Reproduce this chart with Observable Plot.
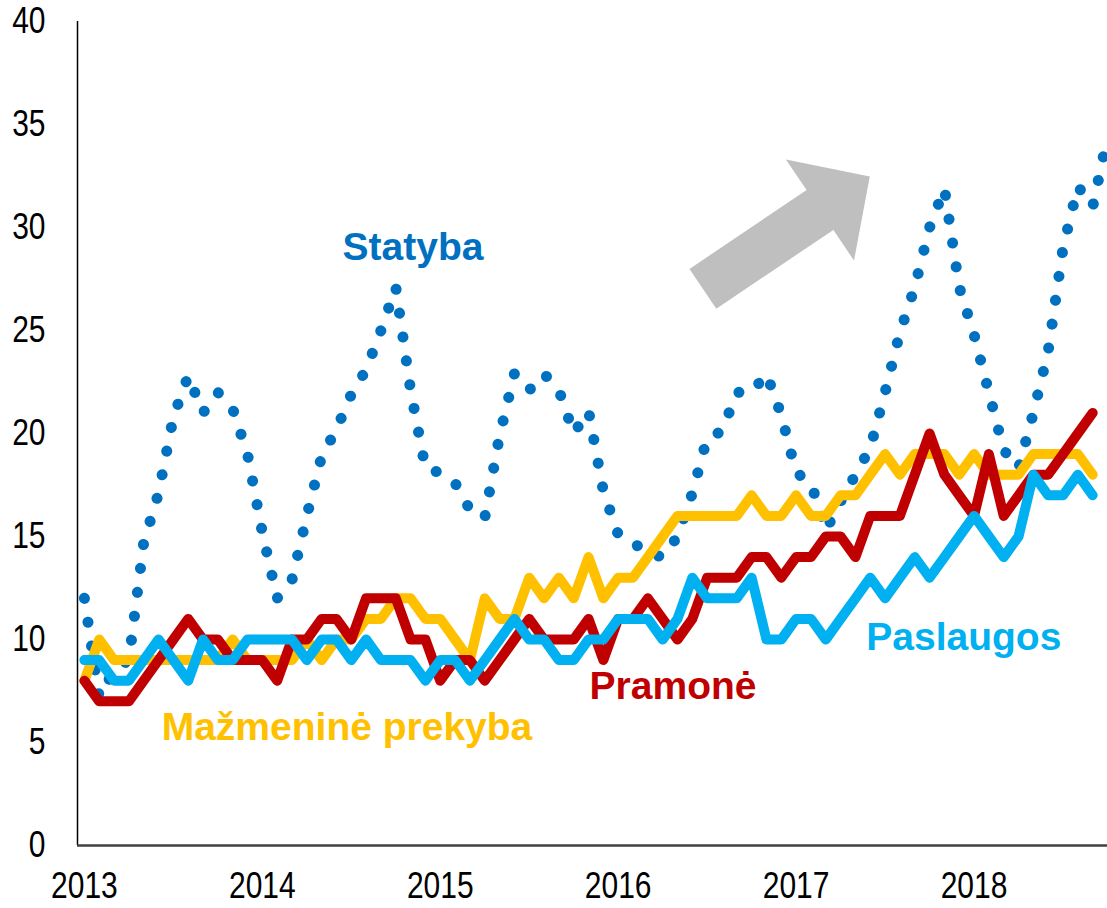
<!DOCTYPE html>
<html>
<head>
<meta charset="utf-8">
<script src="https://cdn.jsdelivr.net/npm/d3@7"></script>
<script src="https://cdn.jsdelivr.net/npm/@observablehq/plot@0.6"></script>
<style>
  html, body { margin: 0; padding: 0; background: #ffffff; }
  #chart svg { display: block; }
</style>
</head>
<body>
<div id="chart"></div>
<script>
// Monthly index: 0 = Jan 2013
const yearLabels = ["2013", "2014", "2015", "2016", "2017", "2018"];
const yearStartIndex = [0, 12, 24, 36, 48, 60];
const yTicks = [0, 5, 10, 15, 20, 25, 30, 35, 40];

// Statyba (construction), Jan 2013 – Oct 2018
const statyba = [12.0, 7.2, 8.5, 9.0, 14.7, 17.1, 20.8, 22.8, 21.0, 22.0,
  21.2, 19.0, 15.2, 12.0, 12.9, 16.0, 18.9, 20.2, 21.9, 23.1,
  25.0, 27.1, 22.1, 18.3, 18.1, 17.6, 16.3, 15.9, 19.9, 22.9,
  22.1, 22.9, 22.1, 20.0, 21.1, 17.2, 15.1, 14.7, 14.2, 14.0,
  15.0, 17.1, 19.8, 20.1, 22.0, 22.0, 22.9, 20.9, 18.1, 17.6,
  15.3, 16.7, 18.0, 19.3, 22.0, 24.9, 27.1, 30.0, 31.9, 27.1,
  24.8, 22.0, 19.2, 18.3, 21.0, 24.0, 29.0, 32.0, 31.0, 34.4];

// Pramonė (industry), Jan 2013 – Sep 2018
const pramone = [8, 7, 7, 7, 8, 9, 10, 11, 10, 10,
  9, 9, 9, 8, 10, 10, 11, 11, 10, 12,
  12, 12, 10, 10, 8, 9, 9, 8, 9, 10,
  11, 10, 10, 10, 11, 9, 11, 11, 12, 11,
  10, 11, 13, 13, 13, 14, 14, 13, 14, 14,
  15, 15, 14, 16, 16, 16, 18, 20, 18, 17,
  16, 19, 16, 17, 18, 18, 19, 20, 21];

// Mažmeninė prekyba (retail trade)
const mazmenine = [8, 10, 9, 9, 9, 9, 9, 9, 9, 9,
  10, 9, 9, 9, 9, 10, 9, 10, 10, 11,
  11, 12, 12, 11, 11, 10, 9, 12, 11, 11,
  13, 12, 13, 12, 14, 12, 13, 13, 14, 15,
  16, 16, 16, 16, 16, 17, 16, 16, 17, 16,
  16, 17, 17, 18, 19, 18, 19, 19, 19, 18,
  19, 18, 18, 18, 19, 19, 19, 19, 18];

// Paslaugos (services)
const paslaugos = [9, 9, 8, 8, 9, 10, 9, 8, 10, 9,
  9, 10, 10, 10, 10, 9, 10, 10, 9, 10,
  9, 9, 9, 8, 9, 9, 8, 9, 10, 11,
  10, 10, 9, 9, 10, 10, 11, 11, 11, 10,
  11, 13, 12, 12, 12, 13, 10, 10, 11, 11,
  10, 11, 12, 13, 12, 13, 14, 13, 14, 15,
  16, 15, 14, 15, 18, 17, 17, 18, 17];

// Series labels and their anchors (month index, value)
const seriesLabels = ["Statyba", "Pramonė", "Mažmeninė prekyba", "Paslaugos"];
const labelIndex = [22.16, 39.7, 17.71, 59.31];
const labelValue = [29.03, 7.72, 5.73, 10.1];

// Trend arrow anchors (month index, value)
const arrowFrom = [41.75, 27.0];
const arrowTo = [53.0, 32.45];

const COLORS = {
  statyba: "#0070C0",
  pramone: "#C00000",
  mazmenine: "#FFC000",
  paslaugos: "#00B0F0"
};
const labelColors = [COLORS.statyba, COLORS.pramone, COLORS.mazmenine, COLORS.paslaugos];

const rows = (arr) => arr.map((v, i) => ({i, v}));

function trendArrowMark(index, scales) {
  const x0 = scales.x(arrowFrom[0]), y0 = scales.y(arrowFrom[1]);
  const x1 = scales.x(arrowTo[0]), y1 = scales.y(arrowTo[1]);
  const dx = x1 - x0, dy = y1 - y0, len = Math.hypot(dx, dy);
  const ux = dx / len, uy = dy / len, nx = -uy, ny = ux;
  const shaft = 24, head = 61, headLen = 60;
  const bx = x1 - ux * headLen, by = y1 - uy * headLen;
  const pts = [
    [x0 + nx * shaft, y0 + ny * shaft],
    [bx + nx * shaft, by + ny * shaft],
    [bx + nx * head, by + ny * head],
    [x1, y1],
    [bx - nx * head, by - ny * head],
    [bx - nx * shaft, by - ny * shaft],
    [x0 - nx * shaft, y0 - ny * shaft]
  ];
  const path = document.createElementNS("http://www.w3.org/2000/svg", "path");
  path.setAttribute("d", "M" + pts.map(p => p[0].toFixed(1) + "," + p[1].toFixed(1)).join("L") + "Z");
  path.setAttribute("fill", "#BFBFBF");
  return path;
}

const lineOpts = {x: "i", y: "v", strokeWidth: 10, strokeLinejoin: "round", strokeLinecap: "round"};

const labelMarks = seriesLabels.map((name, k) =>
  Plot.text([k], {
    x: d => labelIndex[d],
    y: d => labelValue[d],
    text: d => seriesLabels[d],
    fill: labelColors[k],
    fontSize: 39,
    fontWeight: "bold",
    textAnchor: "middle",
    lineAnchor: "middle"
  })
);

const chart = Plot.plot({
  width: 1107,
  height: 908,
  marginLeft: 77,
  marginRight: 0,
  marginTop: 21,
  marginBottom: 63,
  style: {
    fontFamily: "'Liberation Sans', Arial, sans-serif",
    fontSize: "30px",
    background: "#ffffff",
    color: "#000000"
  },
  x: {type: "linear", domain: [-0.465, 69], axis: null},
  y: {type: "linear", domain: [0, 40], axis: null},
  marks: [
    trendArrowMark,
    Plot.line(rows(statyba), {x: "i", y: "v", stroke: COLORS.statyba, strokeWidth: 11,
      strokeDasharray: "0.1,24", strokeLinecap: "round", strokeLinejoin: "round"}),
    Plot.line(rows(mazmenine), {...lineOpts, stroke: COLORS.mazmenine}),
    Plot.line(rows(pramone), {...lineOpts, stroke: COLORS.pramone}),
    Plot.line(rows(paslaugos), {...lineOpts, stroke: COLORS.paslaugos}),
    Plot.ruleX([-0.465], {y1: 0, y2: 40, stroke: "#000000", strokeWidth: 1.5}),
    Plot.ruleY([0], {stroke: "#404040", strokeWidth: 2.5}),
    Plot.axisY({ticks: yTicks, tickSize: 0, tickPadding: 32, fontSize: 30, label: null, fill: "#000"}),
    Plot.axisX({ticks: yearStartIndex, tickFormat: d => yearLabels[yearStartIndex.indexOf(d)],
      tickSize: 0, tickPadding: 27, fontSize: 30, label: null, fill: "#000"}),
    ...labelMarks
  ]
});

// The reference tick labels are drawn slightly taller than wide: stretch them vertically
// (append a scale to each label's own positioning transform).
chart.querySelectorAll('g[aria-label="y-axis tick label"] text, g[aria-label="x-axis tick label"] text')
  .forEach(t => {
    const tr = t.getAttribute("transform");
    if (tr && /translate\(/.test(tr)) t.setAttribute("transform", tr + " scale(1,1.2)");
  });

document.getElementById("chart").appendChild(chart);
</script>
</body>
</html>
